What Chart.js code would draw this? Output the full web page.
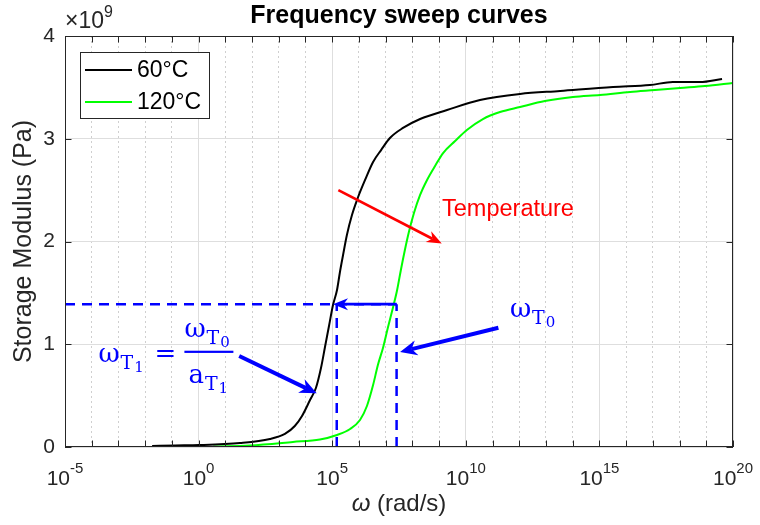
<!DOCTYPE html>
<html><head><meta charset="utf-8">
<script src="https://cdn.jsdelivr.net/npm/chart.js@4.4.1/dist/chart.umd.min.js"></script>
<style>html,body{margin:0;padding:0;background:#fff}canvas{display:block}</style>
</head><body>
<canvas id="c" width="760" height="525"></canvas>
<script>
const SANS = '"Liberation Sans", Arial, sans-serif';
const SERIF = '"DejaVu Serif", "Liberation Serif", serif';

// ---- data (x as log10 of omega, y in units of 1e9 Pa) ----
const seriesLabels = ['60°C', '120°C'];
const logOmega60 = [-1.74,-0.88,0.02,1.55,2.67,3.23,3.60,3.87,4.17,4.39,4.58,4.73,4.88,5.03,5.18,5.29,5.40,5.55,5.74,5.97,6.23,6.53,6.83,7.16,7.65,8.29,9.30,10.53,12.03,13.53,15.51,16.89,17.75,18.76,19.59];
const storage60  = [0.010,0.015,0.019,0.039,0.078,0.127,0.204,0.302,0.457,0.574,0.769,0.973,1.178,1.382,1.528,1.703,1.859,2.063,2.258,2.433,2.599,2.774,2.890,3.007,3.105,3.192,3.280,3.377,3.436,3.465,3.504,3.523,3.552,3.552,3.582];
const logOmega120 = [0.55,1.92,3.53,4.54,5.18,5.67,6.04,6.30,6.53,6.71,6.90,7.09,7.28,7.43,7.57,7.72,7.87,8.06,8.29,8.55,8.85,9.15,9.60,10.04,10.64,11.28,12.03,12.96,14.01,15.02,16.15,17.08,18.02,18.95,20.00];
const storage120  = [0.005,0.015,0.049,0.073,0.117,0.175,0.263,0.399,0.603,0.798,0.964,1.168,1.363,1.528,1.723,1.917,2.092,2.277,2.453,2.599,2.735,2.861,2.978,3.085,3.192,3.260,3.309,3.367,3.406,3.426,3.455,3.474,3.494,3.513,3.543];

const xMajorExponents = [-5, 0, 5, 10, 15, 20];
const xMinorExponents = [-4,-3,-2,-1,1,2,3,4,6,7,8,9,11,12,13,14,16,17,18,19];
const yTickValues = [0, 1, 2, 3, 4];
const Y_UNIT = 1e9;

// reference construction (log10 omega, 1e9 Pa)
const refLevel = 1.39;
const refLogT1 = 5.17;
const refLogT0 = 7.41;
const refLogAxisStart = -5;
// arrows: [tailLog, tailVal, headLog, headVal]
const arrowShift = [7.41, 1.39, 5.03, 1.39];
const arrowTemperature = [5.23, 2.50, 9.10, 1.98];
const arrowT1 = [1.52, 0.886, 4.42, 0.523];
const arrowT0 = [11.22, 1.161, 7.54, 0.925];
// text anchors [log, val] (left / baseline)
const labelTemperature = [9.11, 2.248];
const labelOmegaT0 = [11.65, 1.268];
const labelFormula = [-3.75, 0.830];

const toPts = (lx, vy) => lx.map((l, i) => ({x: Math.pow(10, l), y: vy[i] * Y_UNIT}));

const dashStyle = {borderColor: '#0000ff', borderWidth: 2.5, borderDash: [10, 7], pointRadius: 0, fill: false};

function drawArrow(ctx, x1, y1, x2, y2, color, width, headLen, headW) {
  const a = Math.atan2(y2 - y1, x2 - x1), c = Math.cos(a), s = Math.sin(a);
  const nx = -s, ny = c;
  const notch = headLen * 0.7;
  ctx.save();
  ctx.strokeStyle = color; ctx.fillStyle = color; ctx.lineWidth = width; ctx.lineCap = 'butt';
  ctx.beginPath(); ctx.moveTo(x1, y1); ctx.lineTo(x2 - c * notch, y2 - s * notch); ctx.stroke();
  const bx = x2 - c * headLen, by = y2 - s * headLen;
  ctx.beginPath();
  ctx.moveTo(x2, y2);
  ctx.lineTo(bx + nx * headW, by + ny * headW);
  ctx.lineTo(x2 - c * notch, y2 - s * notch);
  ctx.lineTo(bx - nx * headW, by - ny * headW);
  ctx.closePath(); ctx.fill();
  ctx.restore();
}

function txt(ctx, s, x, y, font, color) {
  ctx.font = font; ctx.fillStyle = color; ctx.textAlign = 'left'; ctx.textBaseline = 'alphabetic';
  ctx.fillText(s, x, y);
  return ctx.measureText(s).width;
}

// symbol with subscript and sub-subscript
function subSym(ctx, x, y, main, sub, subsub, color) {
  let w = txt(ctx, main, x, y, `26px ${SERIF}`, color);
  let w2 = txt(ctx, sub, x + w + 1, y + 7, `19px ${SERIF}`, color);
  let w3 = txt(ctx, subsub, x + w + 2 + w2, y + 10, `15px ${SERIF}`, color);
  return w + 2 + w2 + w3;
}

const overlay = {
  id: 'overlay',
  afterDatasetsDraw(chart) {
    const ctx = chart.ctx, xs = chart.scales.x, ys = chart.scales.y;
    const P = (l, v) => [xs.getPixelForValue(Math.pow(10, l)), ys.getPixelForValue(v * Y_UNIT)];
    const arr = (a, color, w, hl, hw) => { const t = P(a[0], a[1]), h = P(a[2], a[3]); drawArrow(ctx, t[0], t[1], h[0], h[1], color, w, hl, hw); };
    arr(arrowShift, '#0000ff', 2.7, 15, 6);
    arr(arrowTemperature, '#ff0000', 2.7, 15, 6);
    arr(arrowT1, '#0000ff', 4, 17, 7.5);
    arr(arrowT0, '#0000ff', 4, 17, 7.5);

    let p = P(labelTemperature[0], labelTemperature[1]);
    txt(ctx, 'Temperature', p[0], p[1], `23.5px ${SANS}`, '#ff0000');

    p = P(labelOmegaT0[0], labelOmegaT0[1]);
    subSym(ctx, p[0], p[1], 'ω', 'T', '0', '#0000ff');

    p = P(labelFormula[0], labelFormula[1]);
    const fx = p[0], fy = p[1];
    subSym(ctx, fx, fy, 'ω', 'T', '1', '#0000ff');
    txt(ctx, '=', fx + 56, fy, `26px ${SERIF}`, '#0000ff');
    ctx.save(); ctx.fillStyle = '#0000ff'; ctx.fillRect(fx + 86, fy - 11, 49, 2.2); ctx.restore();
    subSym(ctx, fx + 86, fy - 25, 'ω', 'T', '0', '#0000ff');
    subSym(ctx, fx + 90, fy + 21, 'a', 'T', '1', '#0000ff');
  },
  afterDraw(chart) {
    const ctx = chart.ctx, xs = chart.scales.x, ys = chart.scales.y, a = chart.chartArea;
    const axisColor = '#262626';
    ctx.save();
    ctx.strokeStyle = axisColor; ctx.lineWidth = 1;
    ctx.strokeRect(Math.round(a.left) + 0.5, Math.round(a.top) + 0.5, Math.round(a.right - a.left) - 1, Math.round(a.bottom - a.top) - 1);
    const tl = 6.5;
    ctx.beginPath();
    for (const e of xMajorExponents.concat(xMinorExponents)) {
      const px = Math.round(xs.getPixelForValue(Math.pow(10, e))) + 0.5;
      ctx.moveTo(px, a.bottom); ctx.lineTo(px, a.bottom - tl);
      ctx.moveTo(px, a.top); ctx.lineTo(px, a.top + tl);
    }
    for (const v of yTickValues) {
      const py = Math.round(ys.getPixelForValue(v * Y_UNIT)) + 0.5;
      ctx.moveTo(a.left, py); ctx.lineTo(a.left + tl, py);
      ctx.moveTo(a.right, py); ctx.lineTo(a.right - tl, py);
    }
    ctx.stroke();

    for (const e of xMajorExponents) {
      const px = xs.getPixelForValue(Math.pow(10, e));
      ctx.font = `21px ${SANS}`; const w1 = ctx.measureText('10').width;
      ctx.font = `15px ${SANS}`; const w2 = ctx.measureText(String(e)).width;
      const x0 = px - (w1 + w2) / 2;
      txt(ctx, '10', x0, a.bottom + 38, `21px ${SANS}`, axisColor);
      txt(ctx, String(e), x0 + w1, a.bottom + 26, `15px ${SANS}`, axisColor);
    }
    ctx.font = `italic 24px ${SANS}`; const wo = ctx.measureText('ω').width;
    ctx.font = `24px ${SANS}`; const wr = ctx.measureText(' (rad/s)').width;
    const lx = (a.left + a.right) / 2 - (wo + wr) / 2;
    txt(ctx, 'ω', lx, a.bottom + 64, `italic 24px ${SANS}`, axisColor);
    txt(ctx, ' (rad/s)', lx + wo, a.bottom + 64, `24px ${SANS}`, axisColor);

    const ew = txt(ctx, '×10', a.left, a.top - 8, `23px ${SANS}`, axisColor);
    txt(ctx, '9', a.left + ew, a.top - 19, `16px ${SANS}`, axisColor);

    const lgx = a.left + 15, lgy = a.top + 16, lgw = 129, lgh = 66;
    ctx.fillStyle = '#ffffff'; ctx.fillRect(lgx, lgy, lgw, lgh);
    ctx.strokeStyle = axisColor; ctx.lineWidth = 1;
    ctx.strokeRect(Math.round(lgx) + 0.5, Math.round(lgy) + 0.5, lgw, lgh);
    const ds = chart.data.datasets;
    [0, 1].forEach((i) => {
      const yy = lgy + 18 + i * 32;
      ctx.strokeStyle = ds[i].borderColor; ctx.lineWidth = 2;
      ctx.beginPath(); ctx.moveTo(lgx + 5, yy); ctx.lineTo(lgx + 52, yy); ctx.stroke();
      ctx.font = `23px ${SANS}`; ctx.fillStyle = '#000'; ctx.textBaseline = 'middle'; ctx.textAlign = 'left';
      ctx.fillText(ds[i].label, lgx + 57, yy + 1);
    });
    ctx.restore();
  }
};

const chart = new Chart(document.getElementById('c'), {
  type: 'line',
  data: {
    datasets: [
      {label: seriesLabels[0], data: toPts(logOmega60, storage60), borderColor: '#000000', borderWidth: 2, pointRadius: 0, fill: false, cubicInterpolationMode: 'monotone'},
      {label: seriesLabels[1], data: toPts(logOmega120, storage120), borderColor: '#00ff00', borderWidth: 2, pointRadius: 0, fill: false, cubicInterpolationMode: 'monotone'},
      Object.assign({label: 'ref-h', data: [{x: Math.pow(10, refLogAxisStart), y: refLevel * Y_UNIT}, {x: Math.pow(10, refLogT0), y: refLevel * Y_UNIT}]}, dashStyle),
      Object.assign({label: 'ref-v1', data: [{x: Math.pow(10, refLogT1), y: 0}, {x: Math.pow(10, refLogT1), y: refLevel * Y_UNIT}]}, dashStyle),
      Object.assign({label: 'ref-v0', data: [{x: Math.pow(10, refLogT0), y: 0}, {x: Math.pow(10, refLogT0), y: refLevel * Y_UNIT}]}, dashStyle)
    ]
  },
  options: {
    responsive: false,
    animation: false,
    layout: {padding: {left: 0, right: 27, top: 0, bottom: 0}},
    plugins: {
      legend: {display: false},
      tooltip: {enabled: false},
      title: {display: true, fullSize: false, text: 'Frequency sweep curves', color: '#000',
              font: {family: SANS, size: 25, weight: 'bold'}, padding: {top: 1, bottom: 5}}
    },
    scales: {
      x: {
        type: 'logarithmic', min: 1e-5, max: 1e20, position: 'bottom',
        afterBuildTicks: (s) => { s.ticks = xMajorExponents.map(e => ({value: Math.pow(10, e)})); },
        afterFit: (s) => { s.height = 78; },
        ticks: {display: false},
        grid: {color: '#dedede', lineWidth: 1, drawTicks: false},
        border: {display: false}
      },
      x2: {
        type: 'logarithmic', min: 1e-5, max: 1e20, position: 'bottom',
        afterBuildTicks: (s) => { s.ticks = xMinorExponents.map(e => ({value: Math.pow(10, e)})); },
        afterFit: (s) => { s.height = 0; },
        ticks: {display: false},
        grid: {color: '#cfcfcf', lineWidth: 1, drawTicks: false},
        border: {display: false, dash: [2, 3]}
      },
      y: {
        min: 0, max: 4e9,
        afterBuildTicks: (s) => { s.ticks = yTickValues.map(v => ({value: v * Y_UNIT})); },
        afterFit: (s) => { s.width = 65; },
        ticks: {callback: (v) => String(v / Y_UNIT), color: '#262626', font: {family: SANS, size: 21}, padding: 10},
        grid: {color: '#dedede', lineWidth: 1, drawTicks: false},
        border: {display: false},
        title: {display: true, text: 'Storage Modulus (Pa)', color: '#262626', font: {family: SANS, size: 25}, padding: {top: 9, bottom: 0}}
      }
    }
  },
  plugins: [overlay]
});
</script>
</body></html>
